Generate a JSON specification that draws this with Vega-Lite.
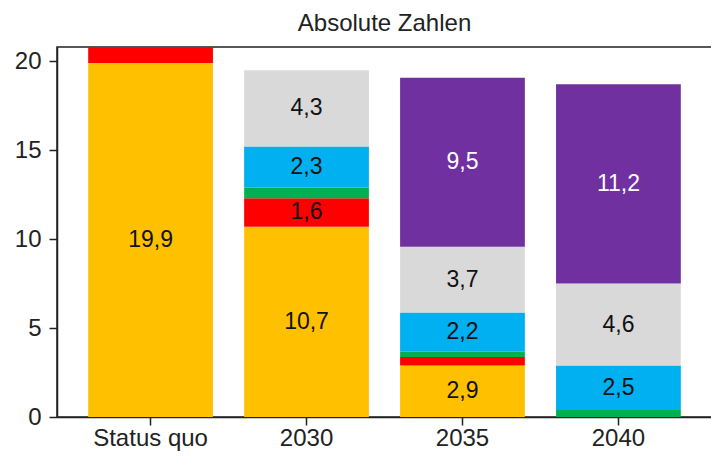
{
  "$schema": "https://vega.github.io/schema/vega-lite/v6.json",
  "autosize": "none",
  "width": 655,
  "height": 370,
  "padding": {"left": 57, "top": 47, "right": 0, "bottom": 40},
  "background": "white",
  "title": {"text": "Absolute Zahlen", "fontSize": 24, "font": "Liberation Sans", "fontWeight": "normal", "color": "#222", "offset": 11, "anchor": "middle"},
  "data": {"values": [
    {"g": "Status quo", "s": "S1", "k": 1, "v": 19.9, "label": "19,9"},
    {"g": "Status quo", "s": "S2", "k": 2, "v": 1.0},
    {"g": "2030", "s": "S1", "k": 1, "v": 10.7, "label": "10,7"},
    {"g": "2030", "s": "S2", "k": 2, "v": 1.6, "label": "1,6"},
    {"g": "2030", "s": "S3", "k": 3, "v": 0.6},
    {"g": "2030", "s": "S4", "k": 4, "v": 2.3, "label": "2,3"},
    {"g": "2030", "s": "S5", "k": 5, "v": 4.3, "label": "4,3"},
    {"g": "2035", "s": "S1", "k": 1, "v": 2.9, "label": "2,9"},
    {"g": "2035", "s": "S2", "k": 2, "v": 0.47},
    {"g": "2035", "s": "S3", "k": 3, "v": 0.3},
    {"g": "2035", "s": "S4", "k": 4, "v": 2.2, "label": "2,2"},
    {"g": "2035", "s": "S5", "k": 5, "v": 3.7, "label": "3,7"},
    {"g": "2035", "s": "S6", "k": 6, "v": 9.5, "label": "9,5"},
    {"g": "2040", "s": "S3", "k": 3, "v": 0.4},
    {"g": "2040", "s": "S4", "k": 4, "v": 2.5, "label": "2,5"},
    {"g": "2040", "s": "S5", "k": 5, "v": 4.6, "label": "4,6"},
    {"g": "2040", "s": "S6", "k": 6, "v": 11.2, "label": "11,2"}
  ]},
  "transform": [
    {"stack": "v", "groupby": ["g"], "sort": [{"field": "k", "order": "ascending"}], "as": ["y0", "y1"]},
    {"calculate": "(datum.y0 + datum.y1) / 2", "as": "mid"}
  ],
  "encoding": {
    "x": {
      "field": "g", "type": "nominal", "sort": ["Status quo", "2030", "2035", "2040"],
      "scale": {"paddingInner": 0.2, "paddingOuter": 0.2},
      "axis": {"title": null, "labelAngle": 0, "labelFontSize": 24, "labelFont": "Liberation Sans", "labelColor": "#222", "tickColor": "#222", "tickSize": 8, "tickWidth": 1.5, "domainColor": "#222", "domainWidth": 1.5, "labelPadding": 1}
    }
  },
  "layer": [
    {
      "mark": {"type": "bar", "clip": true},
      "encoding": {
        "y": {"field": "y0", "type": "quantitative", "scale": {"domain": [0, 20.8], "nice": false},
          "axis": {"title": null, "values": [0, 5, 10, 15, 20], "grid": false, "labelFontSize": 24, "labelFont": "Liberation Sans", "labelColor": "#222", "tickColor": "#222", "tickSize": 8, "tickWidth": 1.5, "domainColor": "#222", "domainWidth": 1.5, "labelPadding": 8}},
        "y2": {"field": "y1"},
        "color": {"field": "s", "type": "nominal", "legend": null,
          "scale": {"domain": ["S1", "S2", "S3", "S4", "S5", "S6"], "range": ["#FFC000", "#FF0000", "#00B050", "#00B0F0", "#D9D9D9", "#7030A0"]}}
      }
    },
    {
      "transform": [{"filter": "isValid(datum.label)"}],
      "mark": {"type": "text", "fontSize": 23, "font": "Liberation Sans", "baseline": "middle", "align": "center"},
      "encoding": {
        "y": {"field": "mid", "type": "quantitative"},
        "text": {"field": "label"},
        "color": {"condition": {"test": "datum.s === 'S6'", "value": "white"}, "value": "#111"}
      }
    }
  ],
  "config": {"view": {"stroke": "#222", "strokeWidth": 1.5}}
}
